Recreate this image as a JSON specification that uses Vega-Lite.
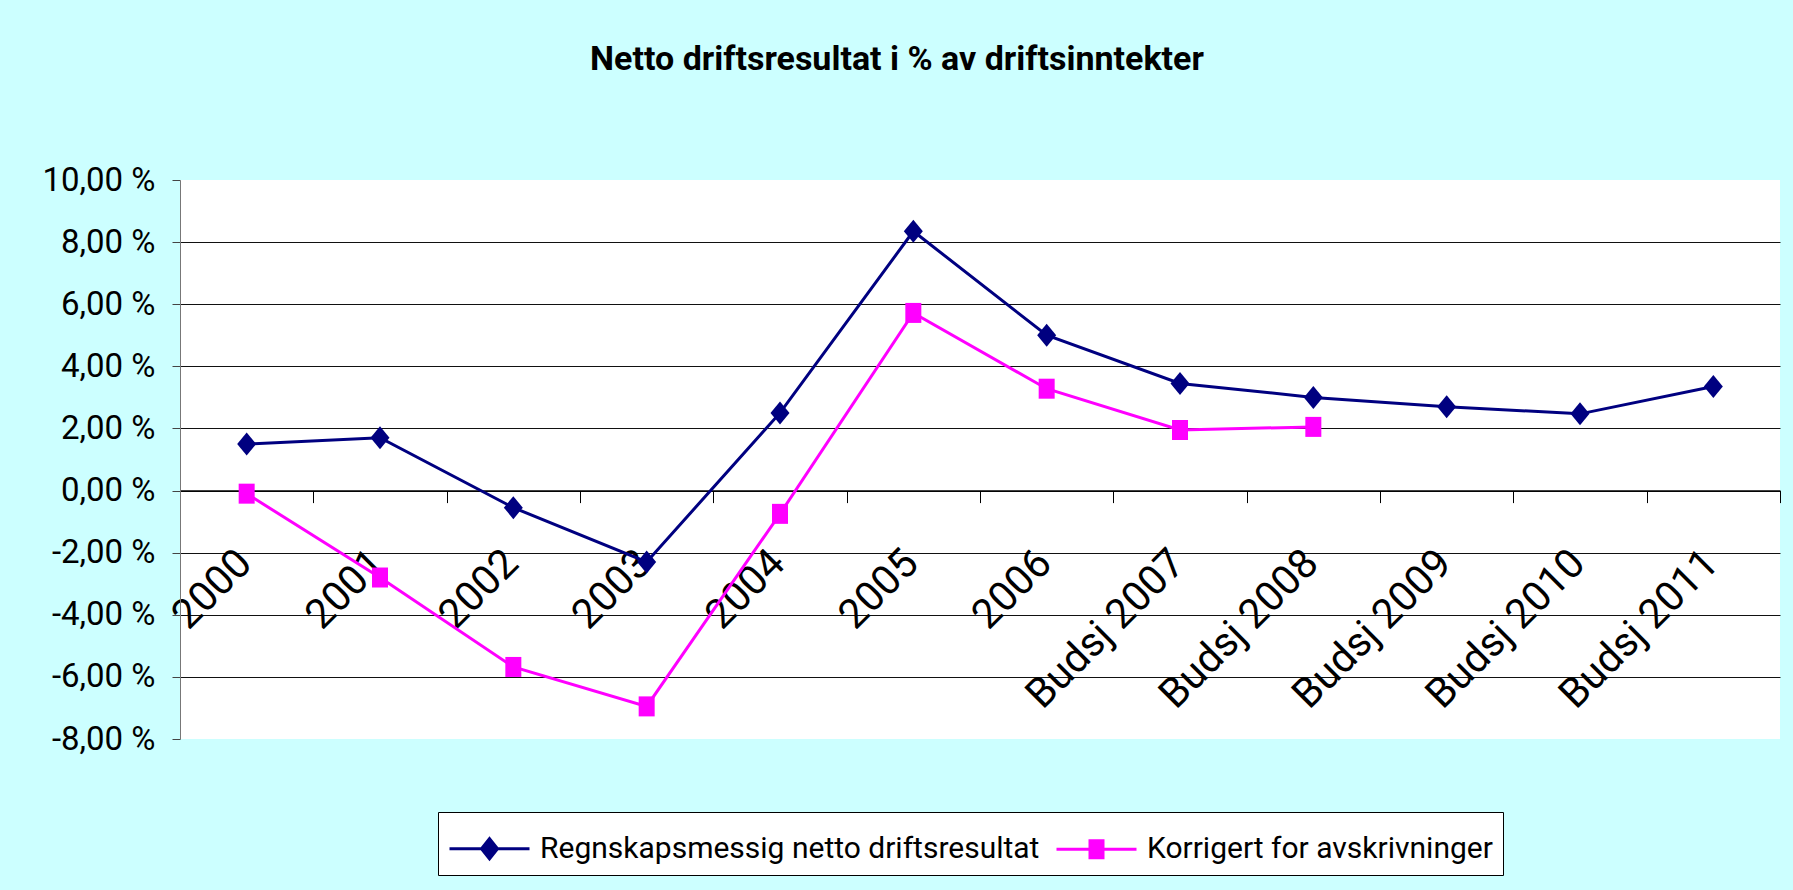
{
  "$schema": "https://vega.github.io/schema/vega-lite/v6.json",
  "width": 1600,
  "height": 559,
  "autosize": {"type": "none"},
  "padding": {"left": 180, "top": 180, "right": 13, "bottom": 151},
  "background": "#CCFFFF",
  "config": {
    "view": {"fill": "white", "stroke": null},
    "font": "Roboto"
  },
  "title": {
    "text": "Netto driftsresultat i % av driftsinntekter",
    "fontSize": 34,
    "fontWeight": "bold",
    "color": "black",
    "anchor": "middle",
    "frame": "group",
    "baseline": "alphabetic",
    "offset": 60,
    "dx": -83
  },
  "data": {
    "values": [
      {"aar": "2000", "serie": "Regnskapsmessig netto driftsresultat", "verdi": 1.5},
      {"aar": "2001", "serie": "Regnskapsmessig netto driftsresultat", "verdi": 1.7},
      {"aar": "2002", "serie": "Regnskapsmessig netto driftsresultat", "verdi": -0.55},
      {"aar": "2003", "serie": "Regnskapsmessig netto driftsresultat", "verdi": -2.3},
      {"aar": "2004", "serie": "Regnskapsmessig netto driftsresultat", "verdi": 2.5},
      {"aar": "2005", "serie": "Regnskapsmessig netto driftsresultat", "verdi": 8.35},
      {"aar": "2006", "serie": "Regnskapsmessig netto driftsresultat", "verdi": 5.0},
      {"aar": "Budsj 2007", "serie": "Regnskapsmessig netto driftsresultat", "verdi": 3.45},
      {"aar": "Budsj 2008", "serie": "Regnskapsmessig netto driftsresultat", "verdi": 3.0},
      {"aar": "Budsj 2009", "serie": "Regnskapsmessig netto driftsresultat", "verdi": 2.7},
      {"aar": "Budsj 2010", "serie": "Regnskapsmessig netto driftsresultat", "verdi": 2.47},
      {"aar": "Budsj 2011", "serie": "Regnskapsmessig netto driftsresultat", "verdi": 3.35},
      {"aar": "2000", "serie": "Korrigert for avskrivninger", "verdi": -0.1},
      {"aar": "2001", "serie": "Korrigert for avskrivninger", "verdi": -2.8},
      {"aar": "2002", "serie": "Korrigert for avskrivninger", "verdi": -5.68},
      {"aar": "2003", "serie": "Korrigert for avskrivninger", "verdi": -6.95},
      {"aar": "2004", "serie": "Korrigert for avskrivninger", "verdi": -0.75},
      {"aar": "2005", "serie": "Korrigert for avskrivninger", "verdi": 5.72},
      {"aar": "2006", "serie": "Korrigert for avskrivninger", "verdi": 3.28},
      {"aar": "Budsj 2007", "serie": "Korrigert for avskrivninger", "verdi": 1.95},
      {"aar": "Budsj 2008", "serie": "Korrigert for avskrivninger", "verdi": 2.05}
    ]
  },
  "encoding": {
    "x": {
      "field": "aar",
      "type": "ordinal",
      "bandPosition": 0.5,
      "scale": {
        "type": "band",
        "domain": ["2000", "2001", "2002", "2003", "2004", "2005", "2006", "Budsj 2007", "Budsj 2008", "Budsj 2009", "Budsj 2010", "Budsj 2011"],
        "paddingInner": 0,
        "paddingOuter": 0
      },
      "axis": {
        "title": null,
        "orient": "bottom",
        "offset": -248.4,
        "grid": false,
        "domainColor": "black",
        "domainWidth": 1.5,
        "tickColor": "black",
        "tickSize": 12,
        "tickWidth": 1,
        "tickBand": "extent",
        "labelAngle": -45,
        "labelAlign": "right",
        "labelBaseline": "top",
        "labelFontSize": 41,
        "labelColor": "black",
        "labelPadding": 40,
        "labelOffset": -16,
        "labelOverlap": false,
        "labelLimit": 0
      }
    },
    "y": {
      "field": "verdi",
      "type": "quantitative",
      "scale": {"domain": [-8, 10], "nice": false, "zero": false},
      "axis": {
        "title": null,
        "values": [-8, -6, -4, -2, 0, 2, 4, 6, 8, 10],
        "labelExpr": "(datum.value < 0 ? '-' : '') + replace(format(abs(datum.value), '.2f'), '.', ',') + ' %'",
        "labelFontSize": 33,
        "labelColor": "black",
        "labelPadding": 17,
        "tickSize": 8,
        "tickColor": "#444",
        "domainColor": "#777",
        "gridColor": "#111",
        "gridWidth": 1,
        "gridOpacity": {"condition": {"test": "datum.value == 10 || datum.value == -8", "value": 0}, "value": 1}
      }
    },
    "color": {
      "field": "serie",
      "type": "nominal",
      "scale": {
        "domain": ["Regnskapsmessig netto driftsresultat", "Korrigert for avskrivninger"],
        "range": ["#000080", "#FF00FF"]
      },
      "legend": {
        "title": null,
        "orient": "none",
        "legendX": 258,
        "legendY": 632,
        "direction": "horizontal",
        "columns": 2,
        "fillColor": "white",
        "strokeColor": "black",
        "padding": 10,
        "labelFontSize": 30,
        "labelColor": "black",
        "labelLimit": 0,
        "labelOffset": 39,
        "columnPadding": 10,
        "symbolSize": 2500,
        "symbolStrokeWidth": 3,
        "encode": {
          "symbols": {
            "update": {
              "shape": {"signal": "datum.value === 'Korrigert for avskrivninger' ? 'M-1,0H2.2M0.34,-0.34H0.86V0.34H0.34Z' : 'M-1,0H2.2M0.6,-0.4L0.92,0L0.6,0.4L0.28,0Z'"}
            }
          }
        }
      }
    }
  },
  "layer": [
    {"mark": {"type": "line", "strokeWidth": 3}},
    {
      "transform": [{"filter": "datum.serie === 'Regnskapsmessig netto driftsresultat'"}],
      "mark": {"type": "point", "filled": true, "opacity": 1, "size": 400, "shape": "M0,-1.15L0.95,0L0,1.15L-0.95,0Z"}
    },
    {
      "transform": [{"filter": "datum.serie === 'Korrigert for avskrivninger'"}],
      "mark": {"type": "point", "filled": true, "opacity": 1, "size": 400, "shape": "M-0.8,-1H0.8V1H-0.8Z"}
    }
  ]
}
